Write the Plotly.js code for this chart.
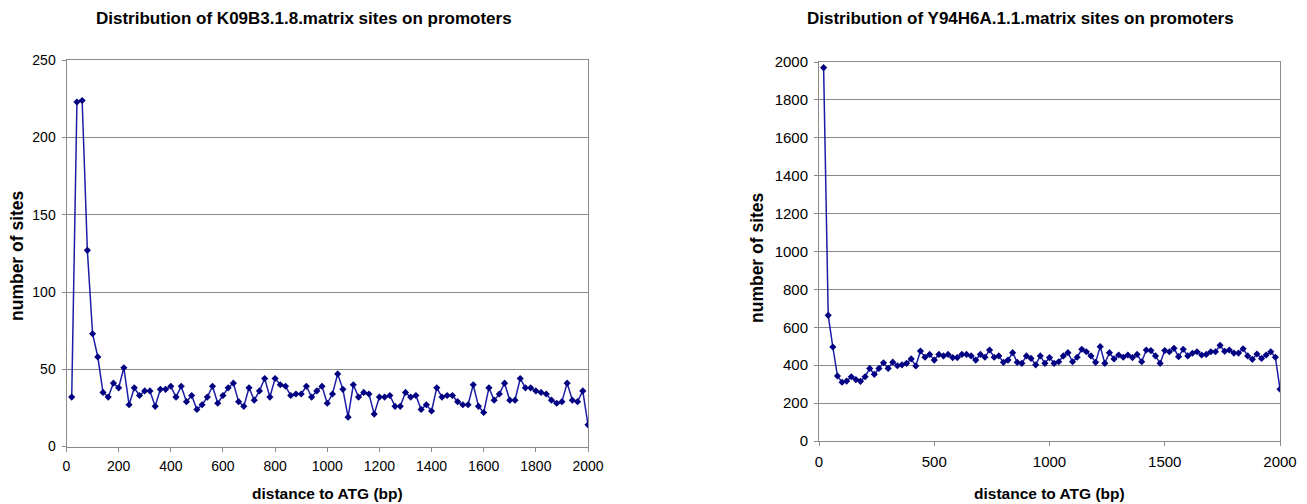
<!DOCTYPE html>
<html>
<head>
<meta charset="utf-8">
<script src="https://cdn.plot.ly/plotly-3.0.1.min.js"></script>
<style>
html,body{margin:0;padding:0;background:#fff;}
#chart{width:1307px;height:504px;}
</style>
</head>
<body>
<div id="chart"></div>
<script>
// distance to ATG (bp), shared by both panels
const distance = [20,40,60,80,100,120,140,160,180,200,220,240,260,280,300,320,340,360,380,400,
  420,440,460,480,500,520,540,560,580,600,620,640,660,680,700,720,740,760,780,800,
  820,840,860,880,900,920,940,960,980,1000,1020,1040,1060,1080,1100,1120,1140,1160,1180,1200,
  1220,1240,1260,1280,1300,1320,1340,1360,1380,1400,1420,1440,1460,1480,1500,1520,1540,1560,1580,1600,
  1620,1640,1660,1680,1700,1720,1740,1760,1780,1800,1820,1840,1860,1880,1900,1920,1940,1960,1980,2000];

// K09B3.1.8.matrix sites
const k09Sites = [32,223,224,127,73,58,35,32,41,38,51,27,38,33,36,36,26,37,37,39,
  32,39,29,33,24,27,32,39,28,33,38,41,29,26,38,30,36,44,32,44,
  40,39,33,34,34,39,32,36,39,28,34,47,37,19,40,32,35,34,21,32,
  32,33,26,26,35,32,33,24,27,23,38,32,33,33,29,27,27,40,26,22,
  38,30,34,41,30,30,44,38,38,36,35,34,30,28,29,41,30,29,36,14];

// Y94H6A.1.1.matrix sites
const y94Sites = [1970,663,496,343,310,316,339,324,315,339,383,352,383,413,383,416,397,402,410,433,
  396,475,442,457,427,457,449,457,440,440,457,457,449,427,457,442,480,442,449,415,
  427,466,415,410,449,436,402,449,410,440,410,418,449,466,418,442,484,471,449,415,
  498,410,466,433,454,442,454,440,457,418,480,477,449,410,477,471,489,445,484,449,
  463,471,454,457,471,471,505,473,480,464,464,487,449,431,459,436,454,471,442,273];

const leftTitle = "Distribution of K09B3.1.8.matrix sites on promoters";
const rightTitle = "Distribution of Y94H6A.1.1.matrix sites on promoters";
const xTitle = "distance to ATG (bp)";
const yTitle = "number of sites";

const W = 1307, H = 504;
const FONT = "Liberation Sans, Arial, sans-serif";
const lineColor = "#1c1ca6";
const markColor = "#000080";
const gridColor = "#8a8a8a";

function trace(y, xa, ya){
  return {x: distance, y: y, xaxis: xa, yaxis: ya, type: 'scatter', mode: 'lines+markers',
    line: {color: lineColor, width: 1.5},
    marker: {symbol: 'diamond', size: 5.5, color: markColor},
    hoverinfo: 'x+y'};
}

function xax(left, right, dtick, fs){
  return {domain: [left/W, right/W], range: [0, 2000], dtick: dtick, tick0: 0,
    showgrid: false, zeroline: false, showline: true, linecolor: gridColor, linewidth: 1,
    mirror: true, ticks: 'outside', ticklen: 4, tickcolor: gridColor,
    tickfont: {family: FONT, size: fs, color: '#000'}, ticklabelstandoff: 3, fixedrange: true};
}
function yax(top, bottom, max, dtick, anchor, fs){
  return {domain: [(H-bottom)/H, (H-top)/H], range: [0, max], dtick: dtick, tick0: 0,
    anchor: anchor, showgrid: true, gridcolor: gridColor, gridwidth: 1,
    zeroline: false, showline: true, linecolor: gridColor, linewidth: 1, mirror: true,
    ticks: 'outside', ticklen: 4, tickcolor: gridColor,
    tickfont: {family: FONT, size: fs, color: '#000'}, ticklabelstandoff: 3, fixedrange: true};
}

const L = {left: 66.5, right: 588, top: 60.3, bottom: 446.5};
const R = {left: 819, right: 1280, top: 62, bottom: 441};

function ann(text, x, y, size, angle){
  return {text: text, xref: 'paper', yref: 'paper', x: x/W, y: (H-y)/H,
    xanchor: 'center', yanchor: 'middle', showarrow: false, textangle: angle||0,
    font: {family: FONT, size: size, color: '#000', weight: 'bold'}};
}

const layout = {
  width: W, height: H, margin: {l: 0, r: 0, t: 0, b: 0},
  paper_bgcolor: '#fff', plot_bgcolor: '#fff', showlegend: false,
  font: {family: FONT},
  xaxis: Object.assign(xax(L.left, L.right, 200, 14), {anchor: 'y'}),
  yaxis: yax(L.top, L.bottom, 250, 50, 'x', 14),
  xaxis2: Object.assign(xax(R.left, R.right, 500, 15), {anchor: 'y2'}),
  yaxis2: yax(R.top, R.bottom, 2000, 200, 'x2', 15),
  annotations: [
    ann(leftTitle, 304, 19, 17),
    ann(rightTitle, 1020, 19, 17),
    ann(xTitle, 327, 493, 15.5),
    ann(xTitle, 1049, 493, 15.5),
    ann(yTitle, 17, 256, 17.5, -90),
    ann(yTitle, 757, 258, 17.5, -90)
  ]
};

Plotly.newPlot('chart', [trace(k09Sites, 'x', 'y'), trace(y94Sites, 'x2', 'y2')], layout,
  {displayModeBar: false, staticPlot: true});
</script>
</body>
</html>
